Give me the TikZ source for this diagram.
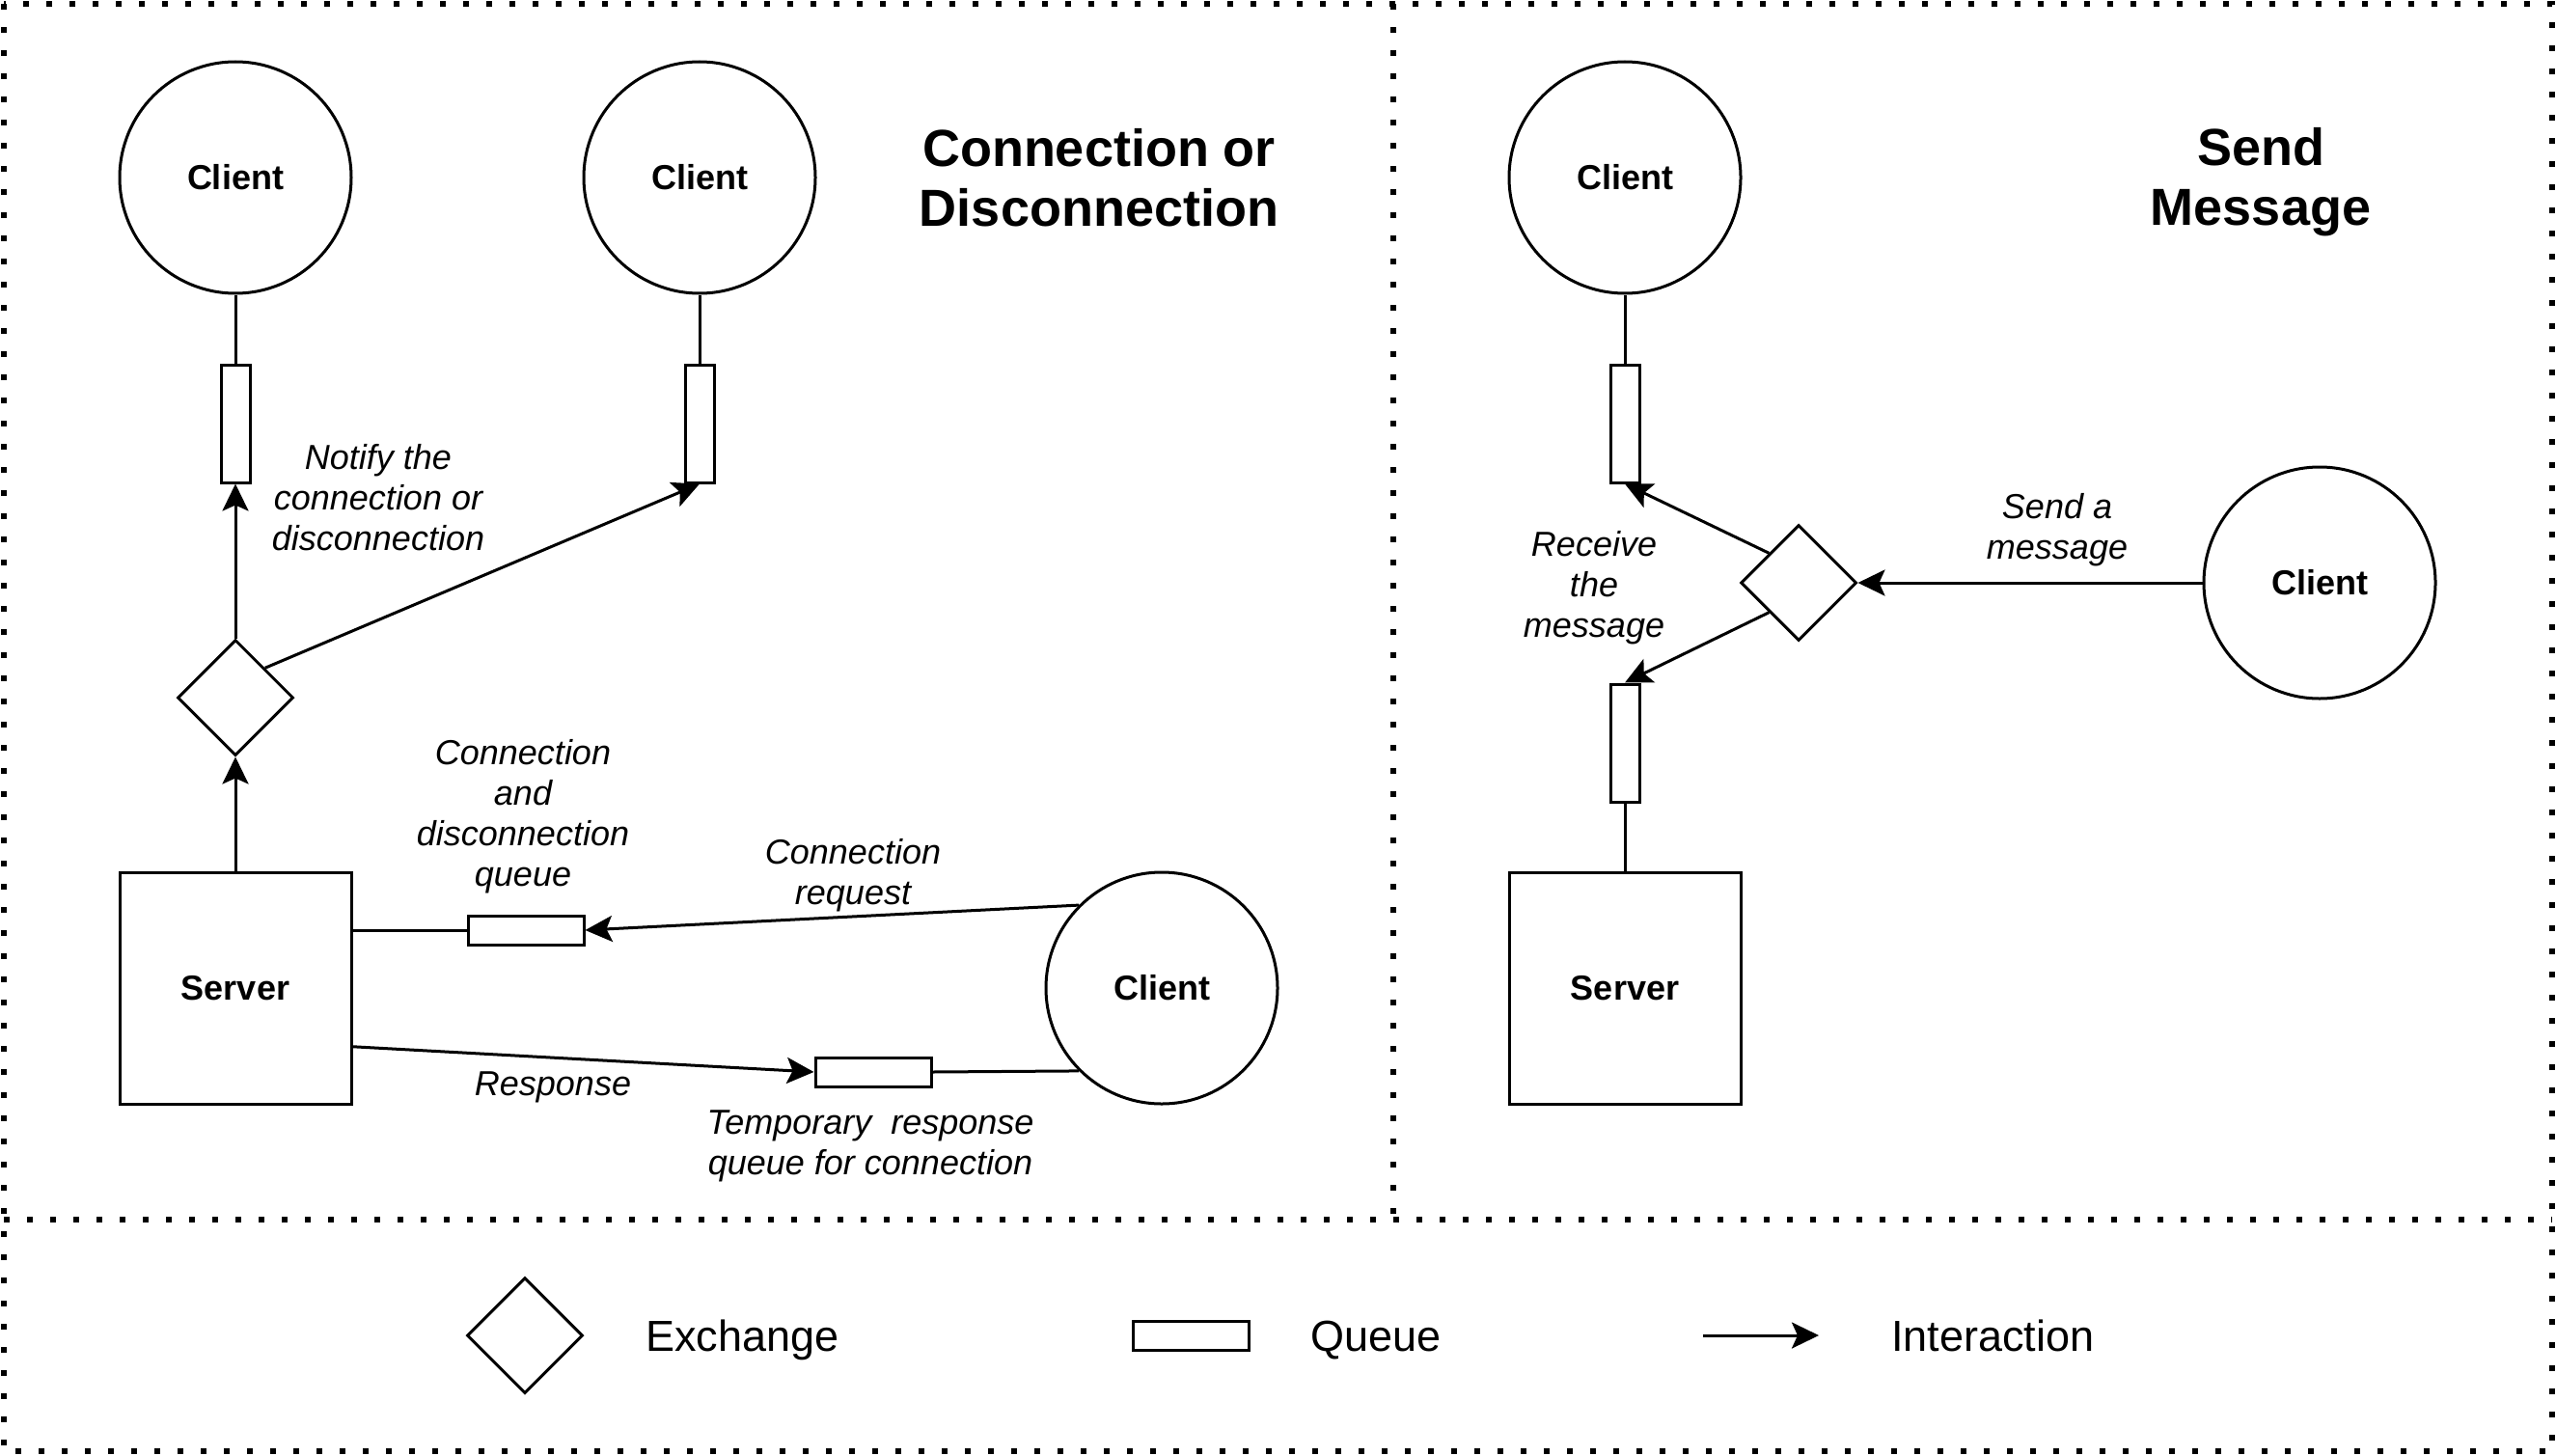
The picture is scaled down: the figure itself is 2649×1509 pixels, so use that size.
\documentclass[tikz,border=0pt]{standalone}
\usepackage{fontspec}
\setmainfont{Liberation Sans}
\usetikzlibrary{shapes.geometric,arrows.meta,calc}
\begin{document}
\begin{tikzpicture}[x=1pt,y=-1pt,
  client/.style={circle,draw,line width=3pt,minimum size=240pt,inner sep=0pt,font=\fontsize{36}{42}\selectfont\bfseries},
  server/.style={rectangle,draw,line width=3pt,minimum width=240pt,minimum height=240pt,inner sep=0pt,font=\fontsize{36}{42}\selectfont\bfseries},
  vqueue/.style={rectangle,draw,line width=3pt,minimum width=30pt,minimum height=122pt,inner sep=0pt},
  hqueue/.style={rectangle,draw,line width=3pt,minimum width=120pt,minimum height=30pt,inner sep=0pt},
  exch/.style={diamond,draw,line width=3pt,minimum width=120pt,minimum height=120pt,inner sep=0pt,shape aspect=1},
  conn/.style={line width=3pt},
  arr/.style={conn,-{Stealth[length=28pt,width=27pt,inset=6pt]}},
  lbl/.style={font=\fontsize{36}{42}\selectfont\itshape,align=center,inner sep=0pt},
  ttl/.style={font=\fontsize{54}{62}\selectfont\bfseries,align=center,inner sep=0pt},
  leg/.style={font=\fontsize{45}{52}\selectfont,anchor=base west,inner sep=0pt},
  frame/.style={line width=6pt,dash pattern=on 6pt off 18pt}
]
\useasboundingbox (0,0) rectangle (2649,1509);
% frames
\draw[frame] (4,4) rectangle (2645,1504);
\draw[frame] (4,1264) -- (2645,1264);
\draw[frame] (1444,4) -- (1444,1264);

% left panel
\node[client] (c1) at (244,184) {Client};
\node[client] (c2) at (725,184) {Client};
\node[vqueue] (q1) at (244,439) {};
\node[vqueue] (q2) at (725,439) {};
\node[exch] (d1) at (244,723) {};
\node[server] (s1) at (244,1024) {Server};
\node[hqueue] (q3) at (545,964) {};
\node[hqueue] (q4) at (905,1111) {};
\node[client] (c3) at (1204,1024) {Client};

\draw[conn] (c1.south) -- (q1.north);
\draw[conn] (c2.south) -- (q2.north);
\draw[arr] (d1.north) -- (q1.south);
\draw[arr] (d1.north east) -- (q2.south);
\draw[arr] (s1.north) -- (d1.south);
\draw[conn] (s1.east |- q3.west) -- (q3.west);
\draw[arr] (c3.135) -- (q3.east);
\draw[arr] ($(s1.north east)!0.75!(s1.south east)$) -- (q4.west);
\draw[conn] (q4.east) -- (c3.225);

\node[lbl] (lnotify) at (392,516) {Notify the\\connection or\\disconnection};
\node[lbl] (lcdq) at (542,846) {Connection\\and\\disconnection\\queue};
\node[lbl] (lcreq) at (884,907) {Connection\\request};
\node[lbl] (lresp) at (573,1127) {Response};
\node[lbl] (ltmp) at (902,1188) {Temporary\ \ response\\queue for connection};
\node[ttl] (t1) at (1139,184) {Connection or\\Disconnection};

% right panel
\node[client] (c4) at (1684,184) {Client};
\node[vqueue] (q5) at (1684,439) {};
\node[exch] (d2) at (1864,604) {};
\node[vqueue] (q6) at (1684,770) {};
\node[server] (s2) at (1684,1024) {Server};
\node[client] (c5) at (2404,604) {Client};

\draw[conn] (c4.south) -- (q5.north);
\draw[conn] (s2.north) -- (q6.south);
\draw[arr] (c5.west) -- (d2.east);
\draw[arr] (d2.north west) -- (q5.south);
\draw[arr] (d2.south west) -- (q6.north);

\node[lbl] (lrecv) at (1652,609) {Receive\\the\\message};
\node[lbl] (lsend) at (2132,549) {Send a\\message};
\node[ttl] (t2) at (2343,189) {Send\\Message};

% legend
\node[exch] (ld) at (544,1384) {};
\node[leg] (lex) at (669,1400) {Exchange};
\node[hqueue] (lq) at (1234,1384) {};
\node[leg] (lqu) at (1358,1400) {Queue};
\coordinate (la1) at (1765,1384);
\coordinate (la2) at (1885,1384);
\draw[arr] (la1) -- (la2);
\node[leg] (lin) at (1960,1400) {Interaction};
\end{tikzpicture}
\end{document}
